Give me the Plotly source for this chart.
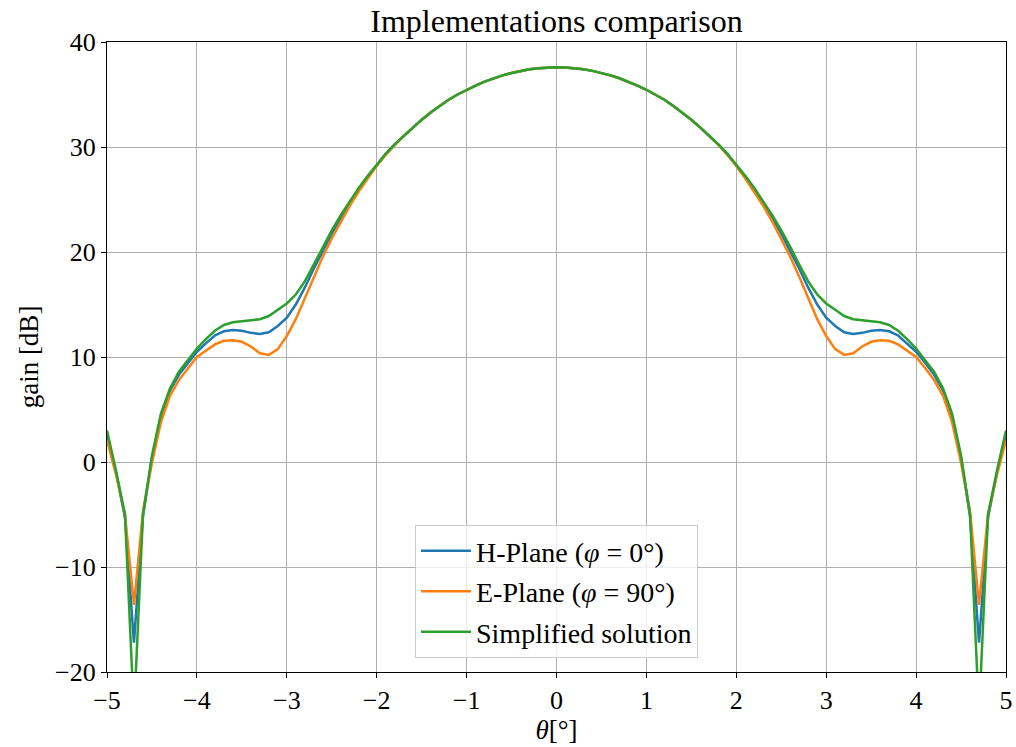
import plotly.graph_objects as go

theta = [round(-5 + 0.1 * i, 1) for i in range(101)]

h_plane = [
    2.4, -1.0, -5.3, -17.2, -5.2, 0.4, 4.4, 6.8, 8.3, 9.45,
    10.5, 11.3, 12.05, 12.45, 12.57, 12.5, 12.3, 12.2, 12.35, 12.95,
    13.75, 15.0, 16.6, 18.4, 20.15, 21.75, 23.25, 24.65, 25.95, 27.15,
    28.3, 29.35, 30.25, 31.05, 31.85, 32.6, 33.28, 33.9, 34.5, 35.0,
    35.45, 35.85, 36.22, 36.55, 36.82, 37.05, 37.25, 37.4, 37.5, 37.58,
    37.6,
    37.58, 37.5, 37.4, 37.25, 37.05, 36.82, 36.55, 36.22, 35.85, 35.45,
    35.0, 34.5, 33.9, 33.28, 32.6, 31.85, 31.05, 30.25, 29.35, 28.3,
    27.15, 25.95, 24.65, 23.25, 21.75, 20.15, 18.4, 16.6, 15.0, 13.75,
    12.95, 12.35, 12.2, 12.3, 12.5, 12.57, 12.45, 12.05, 11.3, 10.5,
    9.45, 8.3, 6.8, 4.4, 0.4, -5.2, -17.2, -5.3, -1.0, 2.4,
]

e_plane = [
    2.1, -1.2, -5.0, -13.6, -4.7, -0.1, 3.8, 6.3, 7.8, 8.95,
    10.0, 10.6, 11.2, 11.55, 11.6, 11.45, 11.0, 10.35, 10.2, 10.75,
    12.0, 13.6, 15.6, 17.65, 19.55, 21.3, 22.9, 24.4, 25.75, 27.0,
    28.2, 29.25, 30.2, 31.05, 31.85, 32.6, 33.28, 33.9, 34.5, 35.0,
    35.45, 35.85, 36.22, 36.55, 36.82, 37.05, 37.25, 37.4, 37.5, 37.58,
    37.6,
    37.58, 37.5, 37.4, 37.25, 37.05, 36.82, 36.55, 36.22, 35.85, 35.45,
    35.0, 34.5, 33.9, 33.28, 32.6, 31.85, 31.05, 30.2, 29.25, 28.2,
    27.0, 25.75, 24.4, 22.9, 21.3, 19.55, 17.65, 15.6, 13.6, 12.0,
    10.75, 10.2, 10.35, 11.0, 11.45, 11.6, 11.55, 11.2, 10.6, 10.0,
    8.95, 7.8, 6.3, 3.8, -0.1, -4.7, -13.6, -5.0, -1.2, 2.1,
]

simplified = [
    3.0, -0.8, -5.0, -24.0, -5.0, 0.6, 4.6, 7.0, 8.6, 9.7,
    10.8, 11.7, 12.5, 13.05, 13.3, 13.4, 13.5, 13.6, 13.9, 14.5,
    15.1, 15.95, 17.2, 18.8, 20.5, 22.05, 23.5, 24.85, 26.1, 27.25,
    28.35, 29.35, 30.25, 31.05, 31.85, 32.6, 33.28, 33.9, 34.5, 35.0,
    35.45, 35.85, 36.22, 36.55, 36.82, 37.05, 37.25, 37.4, 37.5, 37.58,
    37.6,
    37.58, 37.5, 37.4, 37.25, 37.05, 36.82, 36.55, 36.22, 35.85, 35.45,
    35.0, 34.5, 33.9, 33.28, 32.6, 31.85, 31.05, 30.25, 29.35, 28.35,
    27.25, 26.1, 24.85, 23.5, 22.05, 20.5, 18.8, 17.2, 15.95, 15.1,
    14.5, 13.9, 13.6, 13.5, 13.4, 13.3, 13.05, 12.5, 11.7, 10.8,
    9.7, 8.6, 7.0, 4.6, 0.6, -5.0, -24.0, -5.0, -0.8, 3.0,
]

series_names = ["H-Plane (<i>φ</i> = 0°)", "E-Plane (<i>φ</i> = 90°)", "Simplified solution"]
series_colors = ["#1f77b4", "#ff7f0e", "#2ca02c"]
x_ticks = [-5, -4, -3, -2, -1, 0, 1, 2, 3, 4, 5]
y_ticks = [-20, -10, 0, 10, 20, 30, 40]

FONT = "Liberation Serif"

fig = go.Figure()
for i, (name, ys, col) in enumerate(zip(series_names, [h_plane, e_plane, simplified], series_colors)):
    fig.add_trace(go.Scatter(x=theta, y=ys, mode="lines", name=name, legendgroup=f"g{i}",
                             line=dict(color=col, width=2.5)))

axis_common = dict(
    showgrid=True, gridcolor="#b0b0b0", gridwidth=1,
    showline=True, linecolor="black", linewidth=1.3, mirror=True,
    ticks="outside", ticklen=5, tickwidth=1.2, tickcolor="black",
    zeroline=False, automargin=False,
    tickfont=dict(family=FONT, size=26, color="black"),
)

fig.update_xaxes(range=[-5, 5], tickvals=x_ticks,
                 title=dict(text="<i>θ</i>[°]", font=dict(family=FONT, size=27, color="black"), standoff=4),
                 **axis_common)
fig.update_yaxes(range=[-20, 40], tickvals=y_ticks,
                 title=dict(text="gain [dB]", font=dict(family=FONT, size=27, color="black"), standoff=8),
                 **axis_common)

fig.update_layout(
    width=1016, height=747,
    margin=dict(l=107, r=10, t=42, b=75),
    paper_bgcolor="white", plot_bgcolor="white",
    title=dict(text="Implementations comparison", x=0.5, xref="paper", xanchor="center",
               y=1 - 21 / 747, yanchor="middle",
               font=dict(family=FONT, size=32, color="black")),
    legend=dict(x=0.5, y=0.022, xanchor="center", yanchor="bottom",
                bgcolor="rgba(255,255,255,0.8)", bordercolor="#cccccc", borderwidth=1,
                font=dict(family=FONT, size=28, color="black"),
                tracegroupgap=1, itemwidth=50),
    showlegend=True,
)

fig.write_html("out.html")
